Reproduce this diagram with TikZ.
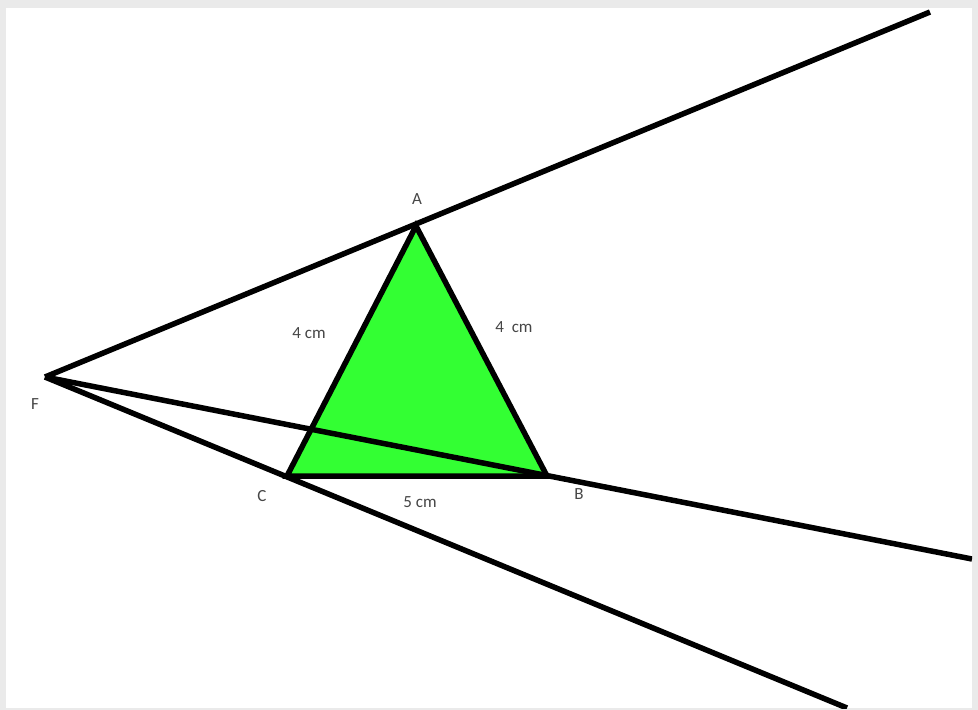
\documentclass[tikz,border=0pt]{standalone}
\usepackage{fontspec}
\setmainfont{Carlito}
\usepackage{xcolor}
\definecolor{trigreen}{RGB}{51,255,51}
\definecolor{framegray}{RGB}{234,234,234}
\definecolor{lblgray}{RGB}{70,70,70}

\begin{document}
\begin{tikzpicture}[x=1pt, y=-1pt,
  ray/.style={line width=5.5pt},
  tri/.style={fill=trigreen, draw=black, line width=5.5pt, line join=miter},
  lbl/.style={text=lblgray, font=\fontsize{17}{19}\selectfont, inner sep=1pt}]
  % frame
  \fill[framegray] (0,0) rectangle (978,710);
  \fill[white] (6,8) rectangle (972,708);
  \useasboundingbox (0,0) rectangle (978,710);
  % points
  \coordinate (F) at (45,377);
  \coordinate (A) at (416,226);
  \coordinate (B) at (547,476);
  \coordinate (C) at (287,476);
  \coordinate (fa) at (930,12);
  \coordinate (fb) at (972,559);
  \coordinate (fc) at (847,708);
  % triangle
  \filldraw[tri] (A) -- (B) -- (C) -- cycle;
  % rays from F
  \begin{scope}
    \clip (6,8) rectangle (972,708);
    \draw[ray] (F) -- (fa);
    \draw[ray] (F) -- (fb);
    \draw[ray] (F) -- (fc);
  \end{scope}
  % labels
  \node[lbl] (la) at (417,199) {A};
  \node[lbl] (lb) at (579,494) {B};
  \node[lbl] (lc) at (262,496) {C};
  \node[lbl] (lf) at (35,404) {F};
  \node[lbl] (ac) at (309,333) {4 cm};
  \node[lbl] (ab) at (514,327) {4\ \ cm};
  \node[lbl] (bc) at (420,502) {5 cm};
\end{tikzpicture}
\end{document}
